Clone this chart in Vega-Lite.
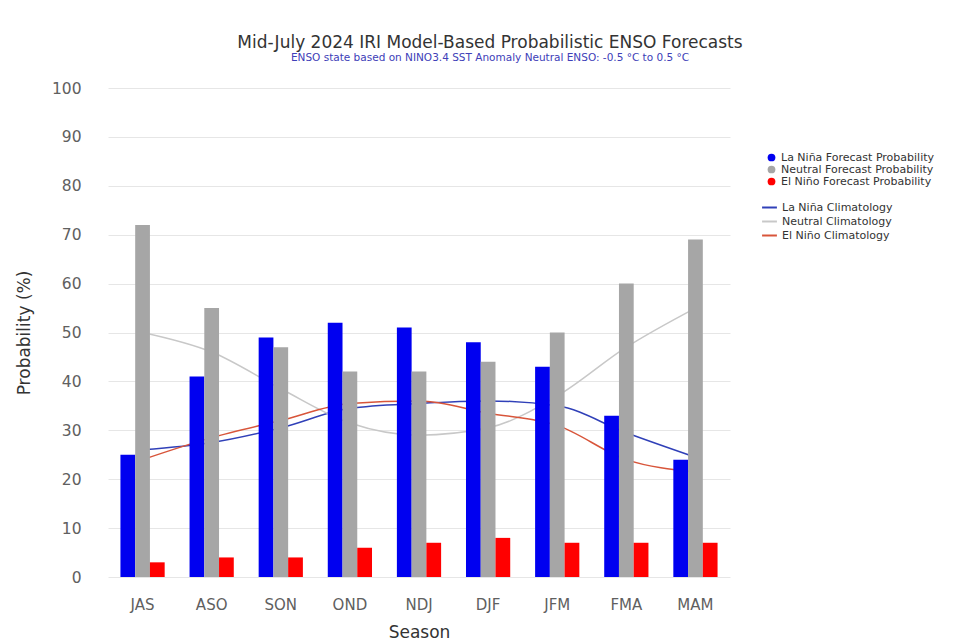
{
  "$schema": "https://vega.github.io/schema/vega-lite/v6.json",
  "width": 622,
  "height": 489,
  "autosize": {"type": "none"},
  "padding": {"left": 108, "top": 88, "right": 246, "bottom": 66},
  "background": "white",
  "config": {
    "font": "DejaVu Sans",
    "view": {"stroke": null}
  },
  "title": {
    "text": "Mid-July 2024 IRI Model-Based Probabilistic ENSO Forecasts",
    "subtitle": "ENSO state based on NINO3.4 SST Anomaly Neutral ENSO: -0.5 °C to 0.5 °C",
    "anchor": "middle",
    "frame": "group",
    "dx": 71,
    "offset": 17,
    "fontSize": 17,
    "fontWeight": "normal",
    "color": "#333333",
    "subtitleFontSize": 10.5,
    "subtitleColor": "#4040b8",
    "subtitlePadding": 1
  },
  "datasets": {
    "forecast": [
      {"season": "JAS", "type": "La Niña", "prob": 25},
      {"season": "JAS", "type": "Neutral", "prob": 72},
      {"season": "JAS", "type": "El Niño", "prob": 3},
      {"season": "ASO", "type": "La Niña", "prob": 41},
      {"season": "ASO", "type": "Neutral", "prob": 55},
      {"season": "ASO", "type": "El Niño", "prob": 4},
      {"season": "SON", "type": "La Niña", "prob": 49},
      {"season": "SON", "type": "Neutral", "prob": 47},
      {"season": "SON", "type": "El Niño", "prob": 4},
      {"season": "OND", "type": "La Niña", "prob": 52},
      {"season": "OND", "type": "Neutral", "prob": 42},
      {"season": "OND", "type": "El Niño", "prob": 6},
      {"season": "NDJ", "type": "La Niña", "prob": 51},
      {"season": "NDJ", "type": "Neutral", "prob": 42},
      {"season": "NDJ", "type": "El Niño", "prob": 7},
      {"season": "DJF", "type": "La Niña", "prob": 48},
      {"season": "DJF", "type": "Neutral", "prob": 44},
      {"season": "DJF", "type": "El Niño", "prob": 8},
      {"season": "JFM", "type": "La Niña", "prob": 43},
      {"season": "JFM", "type": "Neutral", "prob": 50},
      {"season": "JFM", "type": "El Niño", "prob": 7},
      {"season": "FMA", "type": "La Niña", "prob": 33},
      {"season": "FMA", "type": "Neutral", "prob": 60},
      {"season": "FMA", "type": "El Niño", "prob": 7},
      {"season": "MAM", "type": "La Niña", "prob": 24},
      {"season": "MAM", "type": "Neutral", "prob": 69},
      {"season": "MAM", "type": "El Niño", "prob": 7}
    ],
    "clim": [
      {"season": "JAS", "clim": "La Niña Climatology", "prob": 26},
      {"season": "ASO", "clim": "La Niña Climatology", "prob": 27.5},
      {"season": "SON", "clim": "La Niña Climatology", "prob": 30.5},
      {"season": "OND", "clim": "La Niña Climatology", "prob": 34.5},
      {"season": "NDJ", "clim": "La Niña Climatology", "prob": 35.5},
      {"season": "DJF", "clim": "La Niña Climatology", "prob": 36},
      {"season": "JFM", "clim": "La Niña Climatology", "prob": 35},
      {"season": "FMA", "clim": "La Niña Climatology", "prob": 29.5},
      {"season": "MAM", "clim": "La Niña Climatology", "prob": 24.5},
      {"season": "JAS", "clim": "Neutral Climatology", "prob": 50},
      {"season": "ASO", "clim": "Neutral Climatology", "prob": 46},
      {"season": "SON", "clim": "Neutral Climatology", "prob": 38.5},
      {"season": "OND", "clim": "Neutral Climatology", "prob": 31.5},
      {"season": "NDJ", "clim": "Neutral Climatology", "prob": 29},
      {"season": "DJF", "clim": "Neutral Climatology", "prob": 30.5},
      {"season": "JFM", "clim": "Neutral Climatology", "prob": 37},
      {"season": "FMA", "clim": "Neutral Climatology", "prob": 47},
      {"season": "MAM", "clim": "Neutral Climatology", "prob": 55},
      {"season": "JAS", "clim": "El Niño Climatology", "prob": 24},
      {"season": "ASO", "clim": "El Niño Climatology", "prob": 28.5},
      {"season": "SON", "clim": "El Niño Climatology", "prob": 32},
      {"season": "OND", "clim": "El Niño Climatology", "prob": 35.5},
      {"season": "NDJ", "clim": "El Niño Climatology", "prob": 36},
      {"season": "DJF", "clim": "El Niño Climatology", "prob": 33.5},
      {"season": "JFM", "clim": "El Niño Climatology", "prob": 31},
      {"season": "FMA", "clim": "El Niño Climatology", "prob": 24},
      {"season": "MAM", "clim": "El Niño Climatology", "prob": 21.5}
    ]
  },
  "encoding": {
    "x": {
      "field": "season",
      "type": "nominal",
      "sort": ["JAS", "ASO", "SON", "OND", "NDJ", "DJF", "JFM", "FMA", "MAM"],
      "scale": {"paddingInner": 0.36, "paddingOuter": 0.18},
      "axis": {
        "title": "Season",
        "labelAngle": 0,
        "labelFontSize": 15,
        "labelColor": "#606060",
        "labelPadding": 20,
        "ticks": false,
        "domain": false,
        "titleFontSize": 17,
        "titleFontWeight": "normal",
        "titleColor": "#333333",
        "titlePadding": 12
      }
    },
    "y": {
      "field": "prob",
      "type": "quantitative",
      "scale": {"domain": [0, 100]},
      "axis": {
        "title": "Probability (%)",
        "values": [0, 10, 20, 30, 40, 50, 60, 70, 80, 90, 100],
        "labelFontSize": 15.5,
        "labelColor": "#606060",
        "labelPadding": 27,
        "ticks": false,
        "domain": false,
        "gridColor": "#e6e6e6",
        "titleFontSize": 17,
        "titleFontWeight": "normal",
        "titleColor": "#333333",
        "titlePadding": 18
      }
    }
  },
  "layer": [
    {
      "data": {"name": "clim"},
      "mark": {"type": "line", "interpolate": "monotone", "strokeWidth": 1.5},
      "encoding": {
        "stroke": {
          "field": "clim",
          "type": "nominal",
          "scale": {
            "domain": ["La Niña Climatology", "Neutral Climatology", "El Niño Climatology"],
            "range": ["#3040b8", "#c8c8c8", "#d8553a"]
          },
          "legend": {
            "title": null,
            "orient": "none",
            "legendX": 653,
            "legendY": 111,
            "symbolType": "stroke",
            "symbolSize": 220,
            "symbolStrokeWidth": 2,
            "labelFontSize": 11,
            "labelColor": "#333333",
            "rowPadding": 0,
            "labelLimit": 300
          }
        }
      }
    },
    {
      "data": {"name": "forecast"},
      "mark": {"type": "bar"},
      "encoding": {
        "xOffset": {
          "field": "type",
          "type": "nominal",
          "sort": ["La Niña", "Neutral", "El Niño"],
          "scale": {"domain": ["La Niña", "Neutral", "El Niño"], "paddingInner": 0, "paddingOuter": 0}
        },
        "fill": {
          "field": "type",
          "type": "nominal",
          "scale": {
            "domain": ["La Niña", "Neutral", "El Niño"],
            "range": ["#0000f0", "#a6a6a6", "#ff0000"]
          },
          "legend": {
            "title": null,
            "orient": "none",
            "legendX": 658,
            "legendY": 64,
            "symbolType": "circle",
            "symbolSize": 60,
            "labelFontSize": 11,
            "labelColor": "#333333",
            "rowPadding": 0,
            "labelLimit": 300,
            "labelExpr": "datum.label + ' Forecast Probability'"
          }
        }
      }
    }
  ]
}
